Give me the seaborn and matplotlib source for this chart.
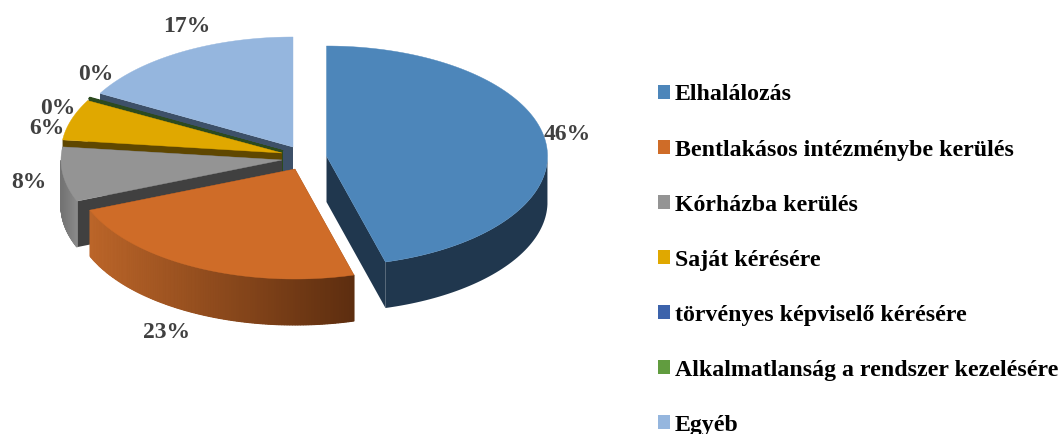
import numpy as np
import matplotlib
matplotlib.use("Agg")
import matplotlib.pyplot as plt
from matplotlib.patches import Patch, Polygon
from matplotlib.colors import to_rgb
import seaborn as sns

categories = ["Elhalálozás", "Bentlakásos intézménybe kerülés", "Kórházba kerülés", "Saját kérésére",
              "törvényes képviselő kérésére", "Alkalmatlanság a rendszer kezelésére", "Egyéb"]
shares = [45.7, 23.2, 8.0, 6.0, 0.1, 0.1, 16.9]

top_colors = ["#4d86ba", "#cf6c28", "#949494", "#e0a800", "#3c63ab", "#619c3f", "#95b6de"]
cut_colors = ["#20374e", "#6b3512", "#404040", "#5f4700", "#2c4a1e", "#2c4a1e", "#3d5068"]
rim_left = ["#20374e", "#bb6529", "#737373", "#8a6a00", "#20355f", "#2c4a1e", "#566f8c"]
rim_right = ["#20374e", "#5c2d0f", "#8c8c8c", "#8a6a00", "#20355f", "#2c4a1e", "#566f8c"]

# layout in pixels, every slice has its own centre because of the explode
centers = [(326.5, 156), (295, 169), (282, 160), (282, 153), (283, 151), (283, 151), (293, 147)]
label_pos = [(567, 135), (167, 332), (29, 183), (47, 129), (58, 108), (96, 74), (187, 27)]
RX, RY, DEPTH = 221, 110, 46

sns.set_theme(style="white")
plt.rcParams["font.family"] = ["Liberation Serif", "DejaVu Serif"]
palette = sns.color_palette(top_colors)

fig = plt.figure(figsize=(10.62, 4.34), dpi=100)
ax = fig.add_axes([0, 0, 1, 1])
ax.set_xlim(0, 1062)
ax.set_ylim(434, 0)
ax.axis("off")


def rim(center, t):
    return center[0] + RX * np.sin(t), center[1] - RY * np.cos(t)


def draw_slice(i, start, end):
    c = centers[i]
    ts = np.linspace(start, end, 120)
    xs, ys = rim(c, ts)

    # the two cut faces, a face seen edge on is skipped
    for t in (start, end):
        if abs(np.sin(t)) < 0.01:
            continue
        x, y = rim(c, t)
        ax.add_patch(Polygon([c, (x, y), (x, y + DEPTH), (c[0], c[1] + DEPTH)],
                             closed=True, fc=cut_colors[i], ec="none"))

    # outer wall, only the front half shows, shaded from left to right
    front = np.cos(ts) <= 0
    if front.sum() > 1:
        fx, fy = xs[front], ys[front]
        left = np.array(to_rgb(rim_left[i]))
        right = np.array(to_rgb(rim_right[i]))
        mid = (left + right) / 2
        # one whole polygon below so the strips leave no seams
        ax.add_patch(Polygon(np.vstack([np.column_stack([fx, fy]),
                                        np.column_stack([fx, fy + DEPTH])[::-1]]),
                             closed=True, fc=mid, ec="none"))
        if rim_left[i] != rim_right[i]:
            span = max(fx.max() - fx.min(), 1)
            for k in range(len(fx) - 1):
                f = (min(fx[k], fx[k + 1]) - fx.min()) / span
                col = left + (right - left) * f
                ax.add_patch(Polygon([(fx[k], fy[k]), (fx[k + 1], fy[k + 1]),
                                      (fx[k + 1], fy[k + 1] + DEPTH), (fx[k], fy[k] + DEPTH)],
                                     closed=True, fc=col, ec=col, lw=0.8))

    # top face
    thin = shares[i] < 1
    ax.add_patch(Polygon(np.vstack([[c], np.column_stack([xs, ys])]), closed=True,
                         fc=palette[i], ec=cut_colors[i] if thin else palette[i],
                         lw=0.9 if thin else 0.3))


edges = np.radians(np.cumsum([0] + shares) * 3.6)
# back to front so that the nearer slices cover the farther walls
for i in [6, 5, 4, 3, 2, 1, 0]:
    draw_slice(i, edges[i], edges[i + 1])

for share, (x, y) in zip(shares, label_pos):
    ax.text(x, y, f"{share:.0f}%", ha="center", va="center", fontsize=17,
            fontweight="bold", color="#404040")

handles = [Patch(fc=palette[i], ec="none", label=categories[i]) for i in range(len(categories))]
ax.legend(handles=handles, loc="upper left", bbox_to_anchor=(658 / 1062, 1 - 84.5 / 434), frameon=False,
          prop={"family": "Liberation Serif", "weight": "bold", "size": 17.2},
          handlelength=0.5, handleheight=0.5, handletextpad=0.2, labelspacing=1.425,
          borderpad=0, borderaxespad=0, labelcolor="black")

fig.savefig("out.png", dpi=100)
